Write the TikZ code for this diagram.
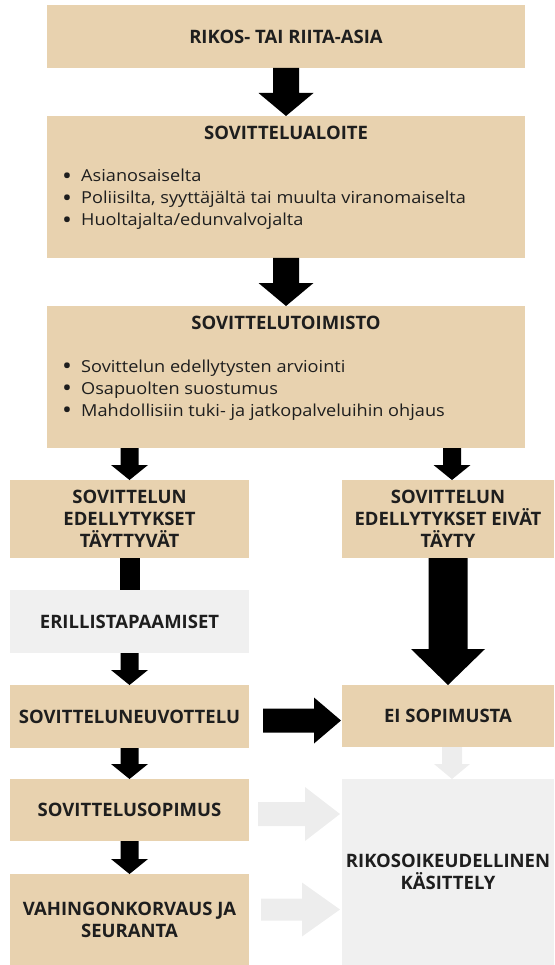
\documentclass[tikz,border=0pt]{standalone}
\usepackage{fontspec}
\usepackage{graphicx}
\setmainfont{Open Sans}
\newfontfamily\itemfont[FakeStretch=1.1]{Open Sans}
\usetikzlibrary{calc}
\definecolor{tanc}{HTML}{E8D2AF}
\definecolor{lgray}{HTML}{F0F0F0}
\definecolor{larrow}{HTML}{EDEDED}
\definecolor{ink}{HTML}{1E1E1E}
% vertical block arrow: start, tip, half shaft, half head, head length, colour
\newcommand\blockdown[6]{\fill[#6] let \p1=(#1), \p2=(#2) in
  ({\x1-#3},\y1) -- ({\x1-#3},{\y2+#5}) -- ({\x1-#4},{\y2+#5}) -- (\x1,\y2)
  -- ({\x1+#4},{\y2+#5}) -- ({\x1+#3},{\y2+#5}) -- ({\x1+#3},\y1) -- cycle;}
% horizontal block arrow
\newcommand\blockright[6]{\fill[#6] let \p1=(#1), \p2=(#2) in
  (\x1,{\y1+#3}) -- ({\x2-#5},{\y1+#3}) -- ({\x2-#5},{\y1+#4}) -- (\x2,\y1)
  -- ({\x2-#5},{\y1-#4}) -- ({\x2-#5},{\y1-#3}) -- (\x1,{\y1-#3}) -- cycle;}
\tikzset{
  box/.style={fill=tanc, draw=none, inner sep=0pt, outer sep=0pt, anchor=north west,
    text=ink, align=center, font=\bfseries\fontsize{18.5}{22}\selectfont},
  graybox/.style={box, fill=lgray},
  ttl/.style={text=ink, anchor=base, inner sep=0pt, font=\bfseries\fontsize{18.5}{22}\selectfont},
  item/.style={text=ink, anchor=base west, inner sep=0pt, font=\itemfont\fontsize{16.5}{22}\selectfont},
}
\newcommand\bul[1]{\makebox[19pt][l]{\raisebox{-2.2pt}{\scalebox{1.45}{•}}}#1}
\begin{document}
\begin{tikzpicture}[x=1pt, y=-1pt]
\useasboundingbox (0,0) rectangle (554,965);
% boxes
\node[box, minimum width=478pt, minimum height=63pt] (n1) at (47,5) {RIKOS- TAI RIITA-ASIA};
\node[box, minimum width=478pt, minimum height=142pt] (n2) at (47,116) {};
\node[box, minimum width=478pt, minimum height=142pt] (n3) at (47,306) {};
\node[box, minimum width=239pt, minimum height=78pt] (n4l) at (10,480) {SOVITTELUN\\EDELLYTYKSET\\TÄYTTYVÄT};
\node[box, minimum width=212pt, minimum height=78pt] (n4r) at (342,480) {SOVITTELUN\\EDELLYTYKSET EIVÄT\\TÄYTY};
\node[graybox, minimum width=239pt, minimum height=63pt] (n5) at (10,590) {ERILLISTAPAAMISET};
\node[box, minimum width=239pt, minimum height=63pt] (n6) at (10,685) {SOVITTELUNEUVOTTELU};
\node[box, minimum width=212pt, minimum height=62pt] (n7) at (342,685) {EI SOPIMUSTA};
\node[box, minimum width=239pt, minimum height=62pt] (n8) at (10,779) {SOVITTELUSOPIMUS};
\node[box, minimum width=239pt, minimum height=91pt] (n9) at (10,874) {VAHINGONKORVAUS JA\\SEURANTA};
\node[graybox, minimum width=212pt, minimum height=186pt] (n10) at (342,779) {RIKOSOIKEUDELLINEN\\KÄSITTELY};
% texts of the two list boxes
\node[ttl] (t2) at (286,140) {SOVITTELUALOITE};
\node[item] (i21) at (62,182) {\bul{Asianosaiselta}};
\node[item] (i22) at (62,204) {\bul{Poliisilta, syyttäjältä tai muulta viranomaiselta}};
\node[item] (i23) at (62,226) {\bul{Huoltajalta/edunvalvojalta}};
\node[ttl] (t3) at (286,329) {SOVITTELUTOIMISTO};
\node[item] (i31) at (62,372) {\bul{Sovittelun edellytysten arviointi}};
\node[item] (i32) at (62,394) {\bul{Osapuolten suostumus}};
\node[item] (i33) at (62,416) {\bul{Mahdollisiin tuki- ja jatkopalveluihin ohjaus}};
% arrows
\blockdown{n1.south}{n2.north}{13pt}{27.5pt}{23pt}{black}
\blockdown{n2.south}{n3.north}{13pt}{27.5pt}{23pt}{black}
\blockdown{n4l.north |- n3.south}{n4l.north}{9pt}{18.5pt}{15pt}{black}
\blockdown{$(n4r.north |- n3.south)+(4,0)$}{$(n4r.north)+(4,0)$}{9pt}{18.5pt}{15pt}{black}
\draw[line width=20pt] (n4l.south) -- (n5.north);
\blockdown{n5.south}{n6.north}{9pt}{18.5pt}{15pt}{black}
\blockdown{n4r.south}{n7.north}{19.5pt}{37pt}{36pt}{black}
\blockright{$(n6.east)+(14,4)$}{$(n7.west)+(-1,4)$}{12pt}{23pt}{27pt}{black}
\blockdown{n6.south}{n8.north}{9pt}{18.5pt}{15pt}{black}
\blockdown{n8.south}{n9.north}{9pt}{18.5pt}{15pt}{black}
\blockdown{$(n7.south)+(4,0)$}{$(n10.north)+(4,0)$}{10pt}{18pt}{15pt}{larrow}
\blockright{$(n8.east)+(9,4)$}{$(n10.west)+(-2,0)$}{12pt}{27pt}{35pt}{larrow}
\blockright{$(n9.east)+(12,-10)$}{$(n10.west)+(-2,0)$}{11pt}{27pt}{38pt}{larrow}
\end{tikzpicture}
\end{document}
